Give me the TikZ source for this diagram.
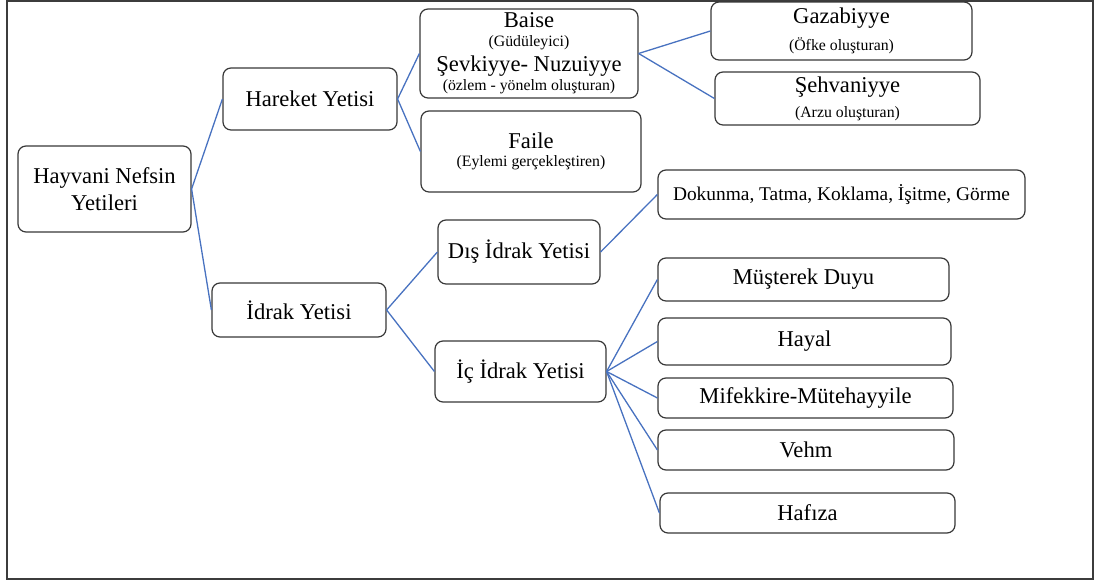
\documentclass[tikz,border=0pt]{standalone}
\usepackage{fontspec}
\setmainfont{Liberation Serif}
\definecolor{boxgray}{RGB}{56,56,56}
\definecolor{linkblue}{RGB}{72,114,192}
\definecolor{framegray}{RGB}{60,60,60}
\newcommand\smtx[1]{{\fontsize{7.9}{9}\selectfont #1}}
\begin{document}
\begin{tikzpicture}[x=0.5pt,y=-0.5pt,
  box/.style={draw=boxgray, line width=0.6pt, rounded corners=4pt, inner sep=0pt,
    align=center, font=\fontsize{11.3}{9.5}\selectfont},
  sz/.style 2 args={minimum width=#1*0.5pt, minimum height=#2*0.5pt},
  link/.style={draw=linkblue, line width=0.65pt}]
\useasboundingbox (0,0) rectangle (1094,581);
\draw[framegray, line width=0.8pt] (7,1) rectangle (1093,579);

\node[box, sz={173}{86}] (hay) at (104.5,189) {Hayvani Nefsin\\[2.3pt]Yetileri};
\node[box, sz={174}{62}] (har) at (310,99) {Hareket Yetisi};
\node[box, sz={174}{54}] (idr) at (299,310) {İdrak Yetisi};
\node[box, sz={218}{89}] (bai) at (529,53.5) {Baise\\\smtx{(Güdüleyici)}\\[2pt]Şevkiyye- Nuzuiyye\\\smtx{(özlem - yönelm oluşturan)}};
\node[box, sz={220}{81}] (fai) at (531,151.5) {Faile\\[-0.5pt]\smtx{(Eylemi gerçekleştiren)}};
\node[box, sz={261}{58}] (gaz) at (841.5,31) {Gazabiyye\\[3.8pt]\smtx{(Öfke oluşturan)}};
\node[box, sz={265}{53}] (seh) at (847.5,98.5) {Şehvaniyye\\[3pt]\smtx{(Arzu oluşturan)}};
\node[box, sz={367}{49}, font=\fontsize{9.7}{11}\selectfont] (dok) at (841.5,194.5) {Dokunma, Tatma, Koklama, İşitme, Görme};
\node[box, sz={162}{64}] (dis) at (519,252) {Dış İdrak Yetisi};
\node[box, sz={171}{61}] (ic) at (520.5,371.5) {İç İdrak Yetisi};
\node[box, sz={291}{43}] (mus) at (803.5,279.5) {Müşterek Duyu};
\node[box, sz={293}{47}] (hyl) at (804.5,341.5) {Hayal};
\node[box, sz={295}{40}] (mif) at (805.5,398) {Mifekkire-Mütehayyile};
\node[box, sz={296}{40}] (veh) at (806,450) {Vehm};
\node[box, sz={295}{40}] (haf) at (807.5,513) {Hafıza};

\draw[link] (hay.east) -- (har.west);
\draw[link] (hay.east) -- (idr.west);
\draw[link] (har.east) -- (bai.west);
\draw[link] (har.east) -- (fai.west);
\draw[link] (bai.east) -- (gaz.west);
\draw[link] (bai.east) -- (seh.west);
\draw[link] (idr.east) -- (dis.west);
\draw[link] (idr.east) -- (ic.west);
\draw[link] (dis.east) -- (dok.west);
\foreach \t in {mus,hyl,mif,veh,haf} \draw[link] (ic.east) -- (\t.west);
\end{tikzpicture}
\end{document}
